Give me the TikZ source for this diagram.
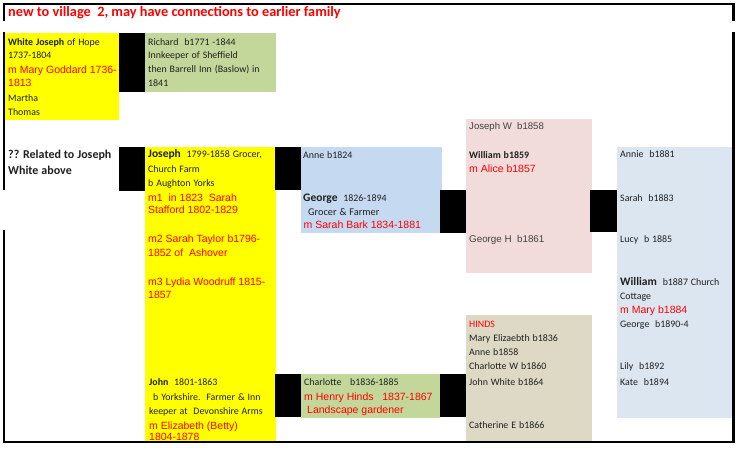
\documentclass[tikz,border=0pt]{standalone}
\usepackage{fontspec}
\setmainfont{Carlito}
\newfontfamily\arialf{Liberation Sans}
\definecolor{ylw}{HTML}{FFFF00}
\definecolor{grn}{HTML}{C4D79B}
\definecolor{blu}{HTML}{C5D9F1}
\definecolor{pnk}{HTML}{F2DCDB}
\definecolor{lbl}{HTML}{DCE6F1}
\definecolor{tanbg}{HTML}{DDD9C4}
\definecolor{rd}{HTML}{FF0000}
\definecolor{ink}{HTML}{1F1F1F}
\tikzset{
  box/.style={draw=none,inner sep=0pt,outer sep=0pt,anchor=north west},
  bt/.style={inner sep=0pt,anchor=base west,text=ink,font=\fontsize{9.9}{12}\selectfont,
    execute at begin node={\spaceskip=2.9pt\relax}},
  rt/.style={inner sep=0pt,anchor=base west,text=rd,font=\arialf\fontsize{10.5}{12}\selectfont},
  ast/.style={inner sep=0pt,anchor=base west,text=ink!85,font=\arialf\fontsize{9.6}{12}\selectfont},
  frame/.style={line width=2.6pt,black}
}
\newcommand{\bx}[6]{\node[box,fill=#2,minimum width=#5pt-#3pt,minimum height=#6pt-#4pt] (#1) at (#3,#4) {};}
\begin{document}
\begin{tikzpicture}[x=1pt,y=-1pt]
\useasboundingbox (0,0) rectangle (744,457);
% boxes
\bx{wj}{ylw}{4}{33}{119}{120}
\bx{k1}{black}{119}{33}{145}{92}
\bx{rich}{grn}{145}{33}{276}{92}
\bx{k2}{black}{119}{147}{145}{191}
\bx{jos}{ylw}{145}{147}{276}{443}
\bx{k3}{black}{275}{147}{301}{190}
\bx{ann}{blu}{301}{147}{442}{233}
\bx{k4}{black}{440}{190}{467}{233}
\bx{pink}{pnk}{466}{119}{592}{273}
\bx{k5}{black}{590}{190}{617}{232}
\bx{rbl}{lbl}{617}{147}{733}{418}
\bx{k6}{black}{275}{374}{301}{417}
\bx{cha}{grn}{301}{374}{440}{418}
\bx{k7}{black}{440}{374}{466}{417}
\bx{hin}{tanbg}{466}{315}{592}{443}
% frame
\draw[frame] (4,21.5) -- (4,4) -- (733.5,4) -- (733.5,21.5);
\draw[frame] (4,32.5) -- (4,190);
\draw[frame] (4,230) -- (4,442) -- (733.5,442) -- (733.5,32.5);
% title
\node[inner sep=0pt,anchor=base west,text=rd,font=\bfseries\fontsize{14.3}{16}\selectfont] (title) at (8,17) {new to village\ \ 2, may have connections to earlier family};
% White Joseph
\node[bt] (wj1) at (8,45.5) {\textbf{White Joseph} of Hope};
\node[bt] (wj2) at (8,59) {1737-1804};
\node[rt] (wj3) at (8,74) {m Mary Goddard 1736-};
\node[rt] (wj4) at (8,86.5) {1813};
\node[bt] (wj5) at (8,102) {Martha};
\node[bt] (wj6) at (8,116) {Thomas};
% Richard
\node[bt] (ri1) at (148,45.5) {Richard\ \ b1771 -1844};
\node[bt] (ri2) at (148,59) {Innkeeper of Sheffield};
\node[bt] (ri3) at (148,73) {then Barrell Inn (Baslow) in};
\node[bt] (ri4) at (148,87) {1841};
% related
\node[bt,font=\bfseries\fontsize{12}{14}\selectfont] (re1) at (8,158.5) {?? Related to Joseph};
\node[bt,font=\bfseries\fontsize{12}{14}\selectfont] (re2) at (8,175) {White above};
% Joseph
\node[bt] (jo1) at (148,158) {{\bfseries\fontsize{11.5}{14}\selectfont Joseph}\ \ 1799-1858\ Grocer,};
\node[bt] (jo2) at (148,173) {Church Farm};
\node[bt] (jo3) at (148,187) {b Aughton Yorks};
\node[rt] (jo4) at (148,201.5) {m1\ \ in 1823\ \ Sarah};
\node[rt] (jo5) at (148,214) {Stafford 1802-1829};
\node[rt] (jo6) at (148,243) {m2 Sarah Taylor b1796-};
\node[rt] (jo7) at (148,256) {1852 of\ \ Ashover};
\node[rt] (jo8) at (148,285.5) {m3 Lydia Woodruff 1815-};
\node[rt] (jo9) at (148,298) {1857};
% John
\node[bt] (jn1) at (149,385) {\textbf{John}\ \ 1801-1863};
\node[bt] (jn2) at (153,400) {b Yorkshire.\ \ Farmer \& Inn};
\node[bt] (jn3) at (149,414) {keeper at\ \ Devonshire Arms};
\node[rt] (jn4) at (149,429) {m Elizabeth (Betty)};
\node[rt] (jn5) at (149,440.5) {1804-1878};
% Anne / George
\node[bt] (an1) at (303,158.5) {Anne b1824};
\node[bt] (an2) at (303,201.5) {{\bfseries\fontsize{11.5}{13}\selectfont George}\ \ 1826-1894};
\node[bt,font=\fontsize{10.3}{12}\selectfont] (an3) at (308,215) {Grocer \& Farmer};
\node[rt] (an4) at (303.5,229) {m Sarah Bark 1834-1881};
% pink
\node[ast] (pk1) at (469,130) {Joseph W\ \ b1858};
\node[bt] (pk2) at (469,158.5) {\textbf{William b1859}};
\node[rt] (pk3) at (469,173) {m Alice b1857};
\node[ast,font=\arialf\fontsize{9.8}{12}\selectfont] (pk4) at (469,243) {George H\ \ b1861};
% right blue
\node[bt] (rb1) at (620,158) {Annie\ \ b1881};
\node[bt] (rb2) at (620,201.5) {Sarah\ \ b1883};
\node[bt] (rb3) at (620,243) {Lucy\ \ b 1885};
\node[bt] (rb4) at (620,285.5) {{\bfseries\fontsize{11.5}{13}\selectfont William}\ \ b1887 Church};
\node[bt] (rb5) at (620,299.5) {Cottage};
\node[rt] (rb6) at (620,313) {m Mary b1884};
\node[bt] (rb7) at (620,327) {George\ \ b1890-4};
\node[bt] (rb8) at (620,369.5) {Lily\ \ b1892};
\node[bt] (rb9) at (620,385) {Kate\ \ b1894};
% Hinds
\node[bt,text=rd] (hi1) at (469,327) {HINDS};
\node[bt] (hi2) at (469,341.5) {Mary Elizaebth b1836};
\node[bt] (hi3) at (469,355.5) {Anne b1858};
\node[bt] (hi4) at (469,369.5) {Charlotte W b1860};
\node[bt] (hi5) at (469,385) {John White b1864};
\node[bt] (hi6) at (469,428.5) {Catherine E b1866};
% Charlotte
\node[bt] (ch1) at (304,385) {Charlotte\ \ \ b1836-1885};
\node[rt] (ch2) at (304,400) {m Henry Hinds\ \ \ 1837-1867};
\node[rt] (ch3) at (307,413) {Landscape gardener};
\end{tikzpicture}
\end{document}
